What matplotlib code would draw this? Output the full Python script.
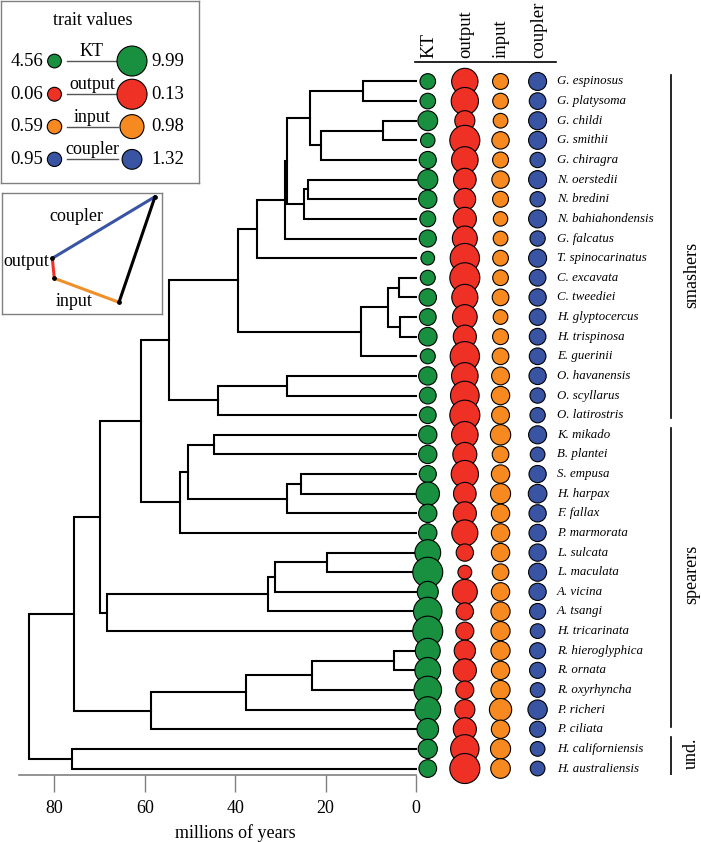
import numpy as np
import matplotlib.pyplot as plt

plt.rcParams['font.family'] = ['Liberation Serif', 'DejaVu Serif']

species = ["G. espinosus", "G. platysoma", "G. childi", "G. smithii", "G. chiragra",
           "N. oerstedii", "N. bredini", "N. bahiahondensis", "G. falcatus",
           "T. spinocarinatus", "C. excavata", "C. tweediei", "H. glyptocercus",
           "H. trispinosa", "E. guerinii", "O. havanensis", "O. scyllarus",
           "O. latirostris", "K. mikado", "B. plantei", "S. empusa", "H. harpax",
           "F. fallax", "P. marmorata", "L. sulcata", "L. maculata", "A. vicina",
           "A. tsangi", "H. tricarinata", "R. hieroglyphica", "R. ornata",
           "R. oxyrhyncha", "P. richeri", "P. ciliata", "H. californiensis",
           "H. australiensis"]

# merges: (child a, child b, age in Ma); ids >= 36 are earlier merges
merges = [(0, 1, 11.7), (2, 3, 7.4), (37, 4, 21.1), (36, 38, 23.5),
          (5, 6, 24.0), (40, 7, 24.8), (39, 41, 28.5), (42, 8, 29.0),
          (43, 9, 35.2), (10, 11, 3.8), (12, 13, 3.5), (45, 46, 6.3),
          (47, 14, 12.2), (44, 48, 39.4), (15, 16, 28.6), (50, 17, 43.7),
          (49, 51, 54.6), (18, 19, 44.8), (20, 21, 25.5), (54, 22, 28.6),
          (53, 55, 50.5), (56, 23, 52.2), (52, 57, 60.9), (24, 25, 19.6),
          (59, 26, 31.3), (60, 27, 32.7), (61, 28, 68.4), (58, 62, 69.9),
          (29, 30, 4.8), (64, 31, 23.1), (65, 32, 37.6), (66, 33, 58.7),
          (63, 67, 75.7), (34, 35, 76.2), (68, 69, 85.6)]

kt = [5.2, 5.2, 6.6, 4.8, 5.7, 6.7, 6.1, 5.3, 5.7, 4.56, 5.0, 5.8, 5.6, 6.2, 5.0,
      6.1, 5.6, 5.6, 6.1, 6.1, 5.7, 7.8, 6.1, 6.1, 8.6, 9.99, 7.0, 9.5, 9.99, 8.3,
      8.6, 9.2, 8.6, 7.2, 6.4, 5.9]
output = [0.114, 0.118, 0.087, 0.13, 0.115, 0.098, 0.094, 0.10, 0.108, 0.127,
          0.13, 0.113, 0.107, 0.10, 0.127, 0.115, 0.124, 0.13, 0.115, 0.104,
          0.118, 0.098, 0.10, 0.113, 0.075, 0.06, 0.108, 0.075, 0.078, 0.092,
          0.10, 0.078, 0.087, 0.10, 0.123, 0.13]
inp = [0.65, 0.64, 0.60, 0.71, 0.65, 0.71, 0.65, 0.59, 0.60, 0.64, 0.64, 0.68,
       0.60, 0.65, 0.68, 0.73, 0.75, 0.73, 0.83, 0.68, 0.75, 0.82, 0.75, 0.75,
       0.75, 0.68, 0.75, 0.78, 0.78, 0.78, 0.75, 0.78, 0.91, 0.75, 0.82, 0.80]
coupler = [1.20, 1.11, 1.20, 1.20, 1.02, 1.20, 1.02, 1.20, 1.02, 1.20, 1.11, 1.15,
           1.11, 1.11, 1.11, 1.15, 1.02, 1.02, 1.20, 0.98, 1.15, 1.24, 1.15, 1.15,
           1.15, 1.20, 1.15, 1.07, 0.98, 1.07, 1.07, 0.98, 1.29, 1.07, 0.98, 0.98]

traits = ["KT", "output", "input", "coupler"]
trait_data = [kt, output, inp, coupler]
trait_min = [4.56, 0.06, 0.59, 0.95]
trait_max = [9.99, 0.13, 0.98, 1.32]
colors = ["#19903f", "#ee3124", "#f6891f", "#3a54a4"]
px_per_unit = [3.0, 231, 24.5, 15.0]   # circle diameter (px) per trait unit

groups = ["smashers", "spearers", "und."]
group_span = [(-0.33, 17.15), (17.65, 32.9), (33.4, 35.4)]
group_label_y = [9.86, 25.1, 34.2]

col_x = [-2.6, -10.8, -18.7, -26.9]


def sizes(vals, k):
    return (np.asarray(vals) * k * 0.72) ** 2


fig = plt.figure(figsize=(7.01, 8.42), dpi=100)
ax = fig.add_axes([0, 67 / 842, 1, 775 / 842])
ax.patch.set_alpha(0)
ax.set_xlim(92.04, -63.05)
ax.set_ylim(35.33, -4.15)

# tree
n = len(species)
ypos = {i: float(i) for i in range(n)}
xpos = {i: 0.0 for i in range(n)}
for j, (a, b, age) in enumerate(merges):
    nid = n + j
    ya, yb = ypos[a], ypos[b]
    ax.plot([xpos[a], age, age, xpos[b]], [ya, ya, yb, yb],
            color='black', lw=1.5, solid_joinstyle='miter', zorder=2)
    ypos[nid] = (ya + yb) / 2
    xpos[nid] = age

# trait circles
ys = np.arange(n)
for x, vals, c, k in zip(col_x, trait_data, colors, px_per_unit):
    ax.scatter(np.full(n, x), ys, s=sizes(vals, k), color=c,
               edgecolor='black', linewidth=0.8, zorder=3, clip_on=False)

for i, name in enumerate(species):
    ax.text(-31.2, i, name, style='italic', fontsize=9.3, va='center', ha='left')

# column headers
for x, t in zip(col_x, traits):
    ax.text(x - 0.2, -1.2, t, rotation=90, ha='center', va='bottom', fontsize=13.5)
ax.plot([0.2, -31.0], [-0.99, -0.99], color='black', lw=1.2, clip_on=False)

# group brackets
for g, (y0, y1), ly in zip(groups, group_span, group_label_y):
    ax.plot([-56.4, -56.4], [y0, y1], color='black', lw=1.2)
    ax.text(-60.9, ly, g, rotation=90, ha='center', va='center', fontsize=13)

# time axis
for s in ['top', 'left', 'right']:
    ax.spines[s].set_visible(False)
ax.spines['bottom'].set_bounds(0, 87.8)
ax.spines['bottom'].set_color('#808080')
ax.spines['bottom'].set_linewidth(1.2)
ax.set_yticks([])
ax.set_xticks([0, 20, 40, 60, 80])
ax.tick_params(axis='x', length=12, width=1.0, color='#808080', labelsize=13, pad=6)
ax.set_xlabel("millions of years", fontsize=13)
ax.xaxis.set_label_coords(235.5 / 701, -0.063)

# legend: trait values
lg = fig.add_axes([0.5 / 701, 1 - 183 / 842, 198 / 701, 182.5 / 842])
lg.set_xlim(0, 198)
lg.set_ylim(183, 0)
lg.set_xticks([])
lg.set_yticks([])
for s in lg.spines.values():
    s.set_color('#808080')
    s.set_linewidth(1.0)
lg.text(92, 20, "trait values", ha='center', va='center', fontsize=13)
row_y = [60.7, 94, 126.5, 159.3]
for y, t, lo, hi, c, k in zip(row_y, traits, trait_min, trait_max, colors, px_per_unit):
    lg.plot([66, 117], [y, y], color='#555555', lw=1.0)
    lg.scatter([54, 131.5], [y, y], s=sizes([lo, hi], k), color=c,
               edgecolor='black', linewidth=0.8, zorder=3, clip_on=False)
    lg.text(42.5, y, f"{lo:.2f}", ha='right', va='center', fontsize=13.5)
    lg.text(151, y, f"{hi:.2f}", ha='left', va='center', fontsize=13.5)
    lg.text(91.5, y - 1, t, ha='center', va='bottom', fontsize=13)

# legend: four-bar linkage
lk = fig.add_axes([2 / 701, 1 - 314 / 842, 160 / 701, 121 / 842])
lk.set_xlim(2, 162)
lk.set_ylim(314, 193)
lk.set_xticks([])
lk.set_yticks([])
for s in lk.spines.values():
    s.set_color('#808080')
    s.set_linewidth(1.0)
joint_x = [52.3, 54.3, 119, 155]
joint_y = [258.3, 278.3, 302.3, 196.7]
bar_pairs = [(0, 3), (0, 1), (1, 2), (2, 3)]
bar_colors = ["#3a54a4", "#ee3124", "#f0902a", "black"]
for (a, b), c in zip(bar_pairs, bar_colors):
    lk.plot([joint_x[a], joint_x[b]], [joint_y[a], joint_y[b]], color=c, lw=2.2,
            solid_capstyle='round')
lk.scatter(joint_x, joint_y, s=6, color='black', zorder=3)
lk.text(76.7, 216.7, "coupler", ha='center', va='center', fontsize=13)
lk.text(26, 261.5, "output", ha='center', va='center', fontsize=13)
lk.text(74, 301, "input", ha='center', va='center', fontsize=13)

fig.savefig("out.png", dpi=100)
